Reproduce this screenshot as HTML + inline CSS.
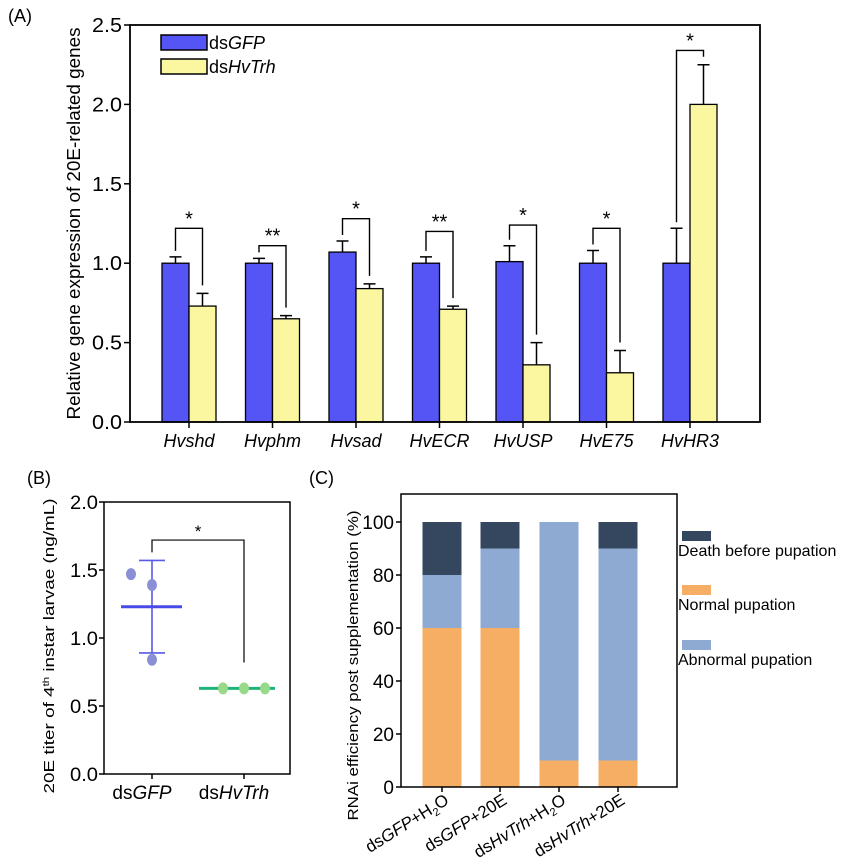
<!DOCTYPE html>
<html><head><meta charset="utf-8"><style>
body{margin:0;background:#fff;}
svg{display:block;font-family:"Liberation Sans",Arial,sans-serif;}
</style></head><body>
<svg id="fig" width="867" height="864" viewBox="0 0 867 864" xmlns="http://www.w3.org/2000/svg">
<g id="pa"></g>
<g id="pb"></g>
<g id="pc"></g>
</svg>
<script>
// Panel A data
const genes = ["Hvshd","Hvphm","Hvsad","HvECR","HvUSP","HvE75","HvHR3"];
const gfpVals = [1.0,1.0,1.07,1.0,1.01,1.0,1.0];
const gfpErr = [0.04,0.03,0.07,0.04,0.10,0.08,0.22];
const trhVals = [0.73,0.65,0.84,0.71,0.36,0.31,2.0];
const trhErr = [0.08,0.02,0.03,0.02,0.14,0.14,0.25];
const bracketLevels = [1.22,1.11,1.28,1.20,1.24,1.22,2.34];
const sigLabels = ["*","**","*","**","*","*","*"];
const aTicks = [0,0.5,1.0,1.5,2.0,2.5];
// Panel B data
const bGroups = ["dsGFP","dsHvTrh"];
const bGfpPts = [1.47,1.39,0.84];
const bTrhPts = [0.63,0.63,0.63];
const bMeans = [1.23,0.63];
const bSD = [0.34,0.0];
const bTicks = [0,0.5,1.0,1.5,2.0];
// Panel C data
const cGroups = [["ds","GFP","+H","2","O"],["ds","GFP","+20E","",""],["ds","HvTrh","+H","2","O"],["ds","HvTrh","+20E","",""]];
const normalPup = [60,60,10,10];
const abnormalPup = [20,30,90,80];
const deathPup = [20,10,0,10];
const cTicks = [0,20,40,60,80,100];

const NS="http://www.w3.org/2000/svg";
function mk(parent,tag,attrs,text){const e=document.createElementNS(NS,tag);for(const k in attrs)e.setAttribute(k,attrs[k]);if(text!==undefined)e.textContent=text;parent.appendChild(e);return e;}

// ---------- Panel A ----------
(function(){
const g=document.getElementById('pa');
const L=130,R=760,T=25,B=422,ymax=2.5;
const y=v=>B-(v/ymax)*(B-T);
const step=83.5, x0=189;
const cx=i=>x0+i*step;
const bw=27;
const t=mk(g,'text',{x:8,y:22,'font-size':18},'(A)');

aTicks.forEach(v=>{
 const l=mk(g,'line',{x1:L-6,x2:L,y1:y(v),y2:y(v),stroke:'#000','stroke-width':1.5});
 
 const tx=mk(g,'text',{x:L-8,y:y(v)+7,'font-size':20,'text-anchor':'end',textLength:30,lengthAdjust:'spacingAndGlyphs'},v.toFixed(1));
 
});
const yt=mk(g,'text',{transform:`translate(80,${(T+B)/2}) rotate(-90)`,'font-size':18,'text-anchor':'middle',textLength:392,lengthAdjust:'spacingAndGlyphs'},'Relative gene expression of 20E-related genes');

genes.forEach((gn,i)=>{
 const c=cx(i);
 const b1=mk(g,'rect',{x:c-bw,y:y(gfpVals[i]),width:bw,height:B-y(gfpVals[i]),fill:'#5555f5',stroke:'#000','stroke-width':1.3});
 
 const b2=mk(g,'rect',{x:c,y:y(trhVals[i]),width:bw,height:B-y(trhVals[i]),fill:'#fbf7a0',stroke:'#000','stroke-width':1.3});
 
 [[c-bw/2,gfpVals[i],gfpErr[i]],[c+bw/2,trhVals[i],trhErr[i]]].forEach(([ex,v,e])=>{
  const el=mk(g,'path',{d:`M${ex},${y(v)}V${y(v+e)}M${ex-6},${y(v+e)}H${ex+6}`,stroke:'#000','stroke-width':1.5,fill:'none'});
  
 });
 const lv=bracketLevels[i];
 const l1=y(gfpVals[i]+gfpErr[i])-6, l2=y(trhVals[i]+trhErr[i])-8;
 const br=mk(g,'path',{d:`M${c-bw/2},${l1}V${y(lv)}H${c+bw/2}V${l2}`,stroke:'#000','stroke-width':1.4,fill:'none'});
 
 const st=mk(g,'text',{x:c,y:y(lv)-3,'font-size':20,'text-anchor':'middle'},sigLabels[i]);
 
 const tk=mk(g,'line',{x1:c,x2:c,y1:B,y2:B+6,stroke:'#000','stroke-width':1.5});
 
 const xl=mk(g,'text',{x:c,y:B+25,'font-size':18,'font-style':'italic','text-anchor':'middle'},gn);
 
});
const ax=mk(g,'rect',{x:L,y:T,width:R-L,height:B-T,fill:'none',stroke:'#000','stroke-width':1.8});

const lg=mk(g,'g',{});

const s1=mk(lg,'rect',{x:161,y:35,width:46,height:15,fill:'#5555f5',stroke:'#000','stroke-width':1.5});

const t1=mk(lg,'text',{x:209,y:49,'font-size':18});t1.innerHTML='ds<tspan font-style="italic">GFP</tspan>';

const s2=mk(lg,'rect',{x:161,y:59,width:46,height:15,fill:'#fbf7a0',stroke:'#000','stroke-width':1.5});

const t2=mk(lg,'text',{x:209,y:73,'font-size':18});t2.innerHTML='ds<tspan font-style="italic">HvTrh</tspan>';

})();

// ---------- Panel B ----------
(function(){
const g=document.getElementById('pb');
const L=104,R=290,T=502,B=774,ymax=2.0;
const y=v=>B-(v/ymax)*(B-T);
const xs=[152,244];
const t=mk(g,'text',{x:27,y:484,'font-size':18},'(B)');

bTicks.forEach(v=>{
 const l=mk(g,'line',{x1:L-5,x2:L,y1:y(v),y2:y(v),stroke:'#000','stroke-width':1.5});
 
 const tx=mk(g,'text',{x:L-6,y:y(v)+7,'font-size':19,'text-anchor':'end',textLength:28,lengthAdjust:'spacingAndGlyphs'},v.toFixed(1));
 
});
const yt=mk(g,'text',{transform:`translate(54,${(T+B)/2+8}) rotate(-90)`,'font-size':15,'text-anchor':'middle',textLength:295,lengthAdjust:'spacingAndGlyphs'});
yt.innerHTML='20E titer of 4<tspan dy="-5" font-size="9">th</tspan><tspan dy="5"> instar larvae (ng/mL)</tspan>';

const ax=mk(g,'path',{d:`M${L},${T}V${B}H${R}V${T}H${L}`,fill:'none',stroke:'#000','stroke-width':1.5});

const c0=xs[0];
const eb=mk(g,'path',{d:`M${c0},${y(bMeans[0]+bSD[0])}V${y(bMeans[0]-bSD[0])}M${c0-13},${y(bMeans[0]+bSD[0])}H${c0+13}M${c0-13},${y(bMeans[0]-bSD[0])}H${c0+13}`,stroke:'#5a5ae6','stroke-width':1.6,fill:'none'});

const gOff=[-21,0,0];
bGfpPts.forEach((v,i)=>{
 const p=mk(g,'ellipse',{cx:c0+gOff[i],cy:y(v),rx:5,ry:6,fill:'#8a8fd6'});
 
});
const m0=mk(g,'line',{x1:c0-31,x2:c0+30,y1:y(bMeans[0]),y2:y(bMeans[0]),stroke:'#4a4ae8','stroke-width':3});

const c1=xs[1];
const m1=mk(g,'line',{x1:c1-45,x2:c1+31,y1:y(bMeans[1]),y2:y(bMeans[1]),stroke:'#1fb57a','stroke-width':3});

const tOff=[-21,0,21];
bTrhPts.forEach((v,i)=>{
 const p=mk(g,'ellipse',{cx:c1+tOff[i],cy:y(v),rx:5,ry:6,fill:'#98d98a'});
 
});
const br=mk(g,'path',{d:`M${c0},${y(1.63)}V${y(1.72)}H${c1}V${y(0.82)}`,stroke:'#000','stroke-width':1.2,fill:'none'});

const st=mk(g,'text',{x:(c0+c1)/2,y:y(1.72)-3,'font-size':17,'text-anchor':'middle'},'*');

bGroups.forEach((gn,i)=>{
 const tk=mk(g,'line',{x1:xs[i],x2:xs[i],y1:B,y2:B+5,stroke:'#000','stroke-width':1.5});
 
 const xl=mk(g,'text',{x:xs[i]-10,y:B+25,'font-size':19,'text-anchor':'middle'});
 xl.innerHTML='ds<tspan font-style="italic">'+gn.slice(2)+'</tspan>';
 
});
})();

// ---------- Panel C ----------
(function(){
const g=document.getElementById('pc');
const L=401,R=677,T=494,B=787;
const y0=787,y100=522;
const y=v=>y0-(v/100)*(y0-y100);
const xs=[442,500,559,618];const bw=39;
const t=mk(g,'text',{x:309,y:484,'font-size':18},'(C)');

cTicks.forEach(v=>{
 const l=mk(g,'line',{x1:L-5,x2:L,y1:y(v),y2:y(v),stroke:'#000','stroke-width':1.5});
 
 const tx=mk(g,'text',{x:L-7,y:y(v)+7,'font-size':19,'text-anchor':'end'},String(v));
 
});
const yt=mk(g,'text',{transform:`translate(358,${(T+B)/2+25}) rotate(-90)`,'font-size':15,'text-anchor':'middle',textLength:310,lengthAdjust:'spacingAndGlyphs'},'RNAi efficiency post supplementation (%)');

xs.forEach((c,i)=>{
 let base=0;
 [[normalPup[i],'#f6ad64','bar-normal-pupation'],[abnormalPup[i],'#8eaad3','bar-abnormal-pupation'],[deathPup[i],'#34475f','bar-death-before-pupation']].forEach(([v,col,nm])=>{
  if(v>0){const r=mk(g,'rect',{x:c-bw/2,y:y(base+v),width:bw,height:y(base)-y(base+v),fill:col});
  }
  base+=v;
 });
 const tk=mk(g,'line',{x1:c,x2:c,y1:B,y2:B+5,stroke:'#000','stroke-width':1.5});
 
 const p=cGroups[i];
 const xl=mk(g,'text',{transform:`translate(${c+8},${B+16}) rotate(-32)`,'font-size':17,'text-anchor':'end'});
 xl.innerHTML=p[0]+'<tspan font-style="italic">'+p[1]+'</tspan>'+p[2]+(p[3]?'<tspan font-size="11" dy="4">'+p[3]+'</tspan><tspan dy="-4">'+p[4]+'</tspan>':'');
 
});
const ax=mk(g,'rect',{x:L,y:T,width:R-L,height:B-T,fill:'none',stroke:'#000','stroke-width':1.5});

const lg=mk(g,'g',{});

[['#34475f','Death before pupation',531],['#f6ad64','Normal pupation',585],['#8eaad3','Abnormal pupation',640]].forEach(([col,lab,yy])=>{
 const s=mk(lg,'rect',{x:682,y:yy,width:29,height:10,fill:col});
 
 const tx=mk(lg,'text',{x:678,y:yy+25,'font-size':16},lab);
 
});
})();
</script>
</body></html>
